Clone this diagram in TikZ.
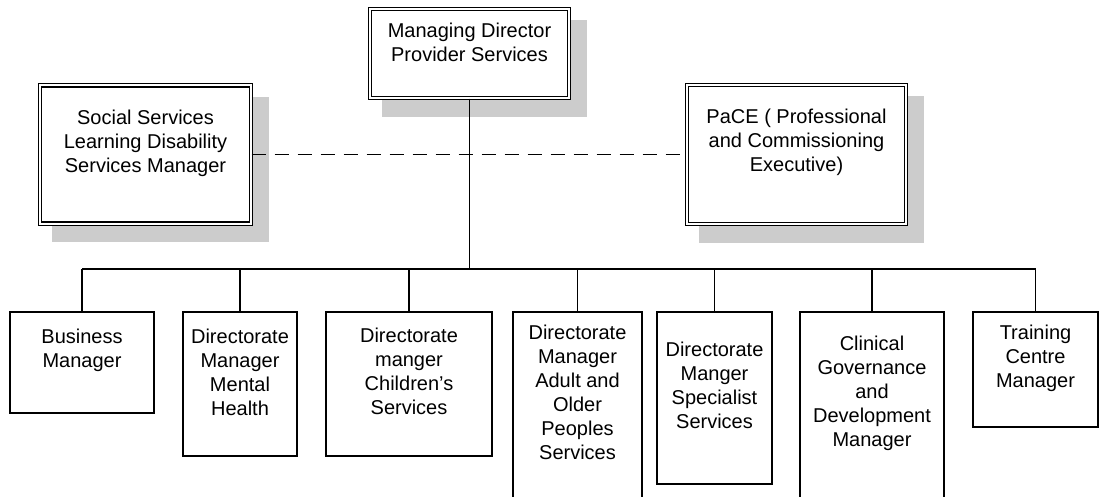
\documentclass[tikz,border=0pt]{standalone}
\usepackage{fontspec}
\setmainfont{Liberation Sans}
\usetikzlibrary{backgrounds}
\begin{document}
\begin{tikzpicture}[x=1pt,y=-1pt,
  txt/.style={font=\fontsize{20}{24}\selectfont, align=center, inner sep=0pt},
  dbox/.style={draw, fill=white, line width=1.1pt, double, double distance=2pt, inner sep=0pt},
  sbox/.style={draw, fill=white, line width=1.6pt, inner sep=0pt},
  conn/.style={line width=1.6pt},
  shadowc/.style={fill=black!20}
]
\useasboundingbox (0,0) rectangle (1099,497);
\clip (0,0) rectangle (1099,497);

% top row boxes (double frame with shadow)
\node[dbox, minimum width=199pt, minimum height=89pt] (top) at (469.5,53.5) {};
\node[dbox, minimum width=211pt, minimum height=138pt] (lsm) at (145.5,154.5) {};
\node[dbox, minimum width=219pt, minimum height=139pt] (pace) at (796.5,154.5) {};

% shadows behind the top row boxes
\begin{scope}[on background layer]
  \foreach \b in {top,lsm,pace}{
    \fill[shadowc] ([shift={(13,12)}]\b.north west) rectangle ([shift={(17,18)}]\b.south east);
  }
\end{scope}

% dashed link
\draw[conn, dashed, dash pattern=on 14pt off 9pt] (lsm.east) -- (pace.west);

% bottom boxes
\node[sbox, minimum width=144pt, minimum height=101pt] (b1) at (82,362.5) {};
\node[sbox, minimum width=114pt, minimum height=144pt] (b2) at (240,384) {};
\node[sbox, minimum width=166pt, minimum height=144pt] (b3) at (409,384) {};
\node[sbox, minimum width=129pt, minimum height=208pt] (b4) at (577.5,416) {};
\node[sbox, minimum width=115pt, minimum height=172pt] (b5) at (714.5,398) {};
\node[sbox, minimum width=144pt, minimum height=208pt] (b6) at (872,416) {};
\node[sbox, minimum width=125pt, minimum height=115pt] (b7) at (1035.5,369.5) {};

\coordinate (bus) at (0,269);
\draw[conn] (b1.north |- bus) -- (b7.north |- bus);
\draw[conn] (top.south) -- (top.south |- bus);
\foreach \b in {b1,b2,b3,b4,b5,b6,b7}{
  \draw[conn] (\b.north) -- (\b.north |- bus);
}

% texts
\node[txt] (ttop) at (469.5,42) {Managing Director\\Provider Services};
\node[txt] (tlsm) at (145.5,143) {Social Services\\Learning Disability\\Services Manager};
\node[txt] (tpace) at (796.5,142) {PaCE ( Professional\\and Commissioning\\Executive)};
\node[txt] (t1) at (82,350.5) {Business\\Manager};
\node[txt] (t2) at (240,372) {Directorate\\Manager\\Mental\\Health};
\node[txt] (t3) at (409,371.5) {Directorate\\manger\\Children’s\\Services};
\node[txt] (t4) at (577.5,392.5) {Directorate\\Manager\\Adult and\\Older\\Peoples\\Services};
\node[txt] (t5) at (714.5,385.5) {Directorate\\Manger\\Specialist\\Services};
\node[txt] (t6) at (872,393.5) {Clinical\\Governance\\and\\Development\\Manager};
\node[txt] (t7) at (1035.5,358) {Training\\Centre\\Manager};
\end{tikzpicture}
\end{document}
